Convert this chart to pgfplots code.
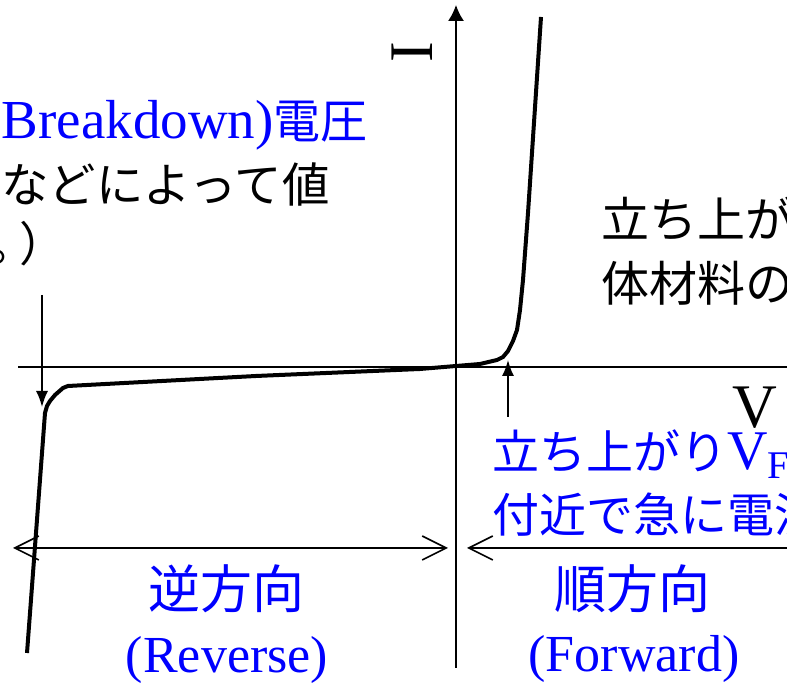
\documentclass[border=0pt]{standalone}
\usepackage{pgfplots}
\pgfplotsset{compat=1.18}
\usetikzlibrary{arrows.meta}
\usepackage{fontspec}
\setmainfont{Liberation Serif}
\newfontfamily\jp{Noto Sans CJK JP}
\newcommand{\J}[1]{{\jp\fontsize{23.5}{28}\selectfont #1}}
\definecolor{labelblue}{RGB}{0,0,255}

\begin{document}
\begin{tikzpicture}
\begin{axis}[
    hide axis,
    scale only axis,
    width=393.5pt, height=341.5pt,
    xmin=-456, xmax=331, ymin=-316, ymax=367,
    clip=true,
]
% axes (drawn by hand, the axis frame is hidden)
\draw[line width=0.8pt] (axis cs:-438,0) -- (axis cs:400,0);
\draw[line width=0.8pt, -{Latex[length=8pt,width=8pt]}] (axis cs:0,-301) -- (axis cs:0,362);

% diode characteristic
\addplot[black, line width=2pt] coordinates {
    (-429,-286) (-411,-46) (-409,-39) (-406,-34) (-401,-28) (-393,-21)
    (-388,-19) (-200,-9) (-36,-2) (0,1) (24,3) (41,7) (47,10) (52,16)
    (57,26) (61,37) (64,57) (67,87) (72,154) (85,350)
};

% pointers
\draw[line width=0.8pt, -{Latex[length=8pt,width=6pt]}] (axis cs:-414,72) -- (axis cs:-414,-40);
\draw[line width=0.8pt, -{Latex[length=8pt,width=6pt]}] (axis cs:52,-50) -- (axis cs:52,7);

% reverse / forward ranges
\draw[line width=0.8pt, {Straight Barb[length=12pt,width=12pt]}-{Straight Barb[length=12pt,width=12pt]}]
    (axis cs:-443,-181) -- (axis cs:-8,-181);
\draw[line width=0.8pt, {Straight Barb[length=12pt,width=12pt]}-{Straight Barb[length=12pt,width=12pt]}]
    (axis cs:11,-181) -- (axis cs:400,-181);

% axis names
\node[inner sep=0, anchor=base, font=\fontsize{31}{36}\selectfont] at (axis cs:299,-61) {V};
\node[inner sep=0, rotate=90, font=\fontsize{31}{36}\selectfont] at (axis cs:-44,315) {I};

% texts
\node[inner sep=0, anchor=base east, text=labelblue, font=\fontsize{27.5}{31}\selectfont]
    at (axis cs:-88,228) {\J{降伏}(Breakdown)\J{電圧}};
\node[inner sep=0, anchor=base east] at (axis cs:-126,164) {{\jp\fontsize{23.7}{28}\selectfont （材料 などによって値}};
\node[inner sep=0, anchor=base east] at (axis cs:-389,105) {\J{が異なる。\kern-8pt）}};

\node[inner sep=0, anchor=base west] at (axis cs:145,129) {{\jp\fontsize{24}{28}\selectfont 立ち上がり電圧は半導}};
\node[inner sep=0, anchor=base west] at (axis cs:145,65) {{\jp\fontsize{24}{28}\selectfont 体材料の種類で異なる}};

\node[inner sep=0, anchor=base west, text=labelblue, font=\fontsize{28}{32}\selectfont]
    at (axis cs:36,-103) {\J{立ち上がり}V\textsubscript{F}\J{電圧}};
\node[inner sep=0, anchor=base west, text=labelblue] at (axis cs:36,-166) {\J{付近で急に電流が流れる}};

\node[inner sep=0, anchor=base, text=labelblue, font=\jp\fontsize{26}{30}\selectfont] at (axis cs:-230,-242) {逆方向};
\node[inner sep=0, anchor=base, text=labelblue, font=\fontsize{26}{30}\selectfont] at (axis cs:-229,-306) {(Reverse)};
\node[inner sep=0, anchor=base, text=labelblue, font=\jp\fontsize{26}{30}\selectfont] at (axis cs:176,-242) {順方向};
\node[inner sep=0, anchor=base, text=labelblue, font=\fontsize{26}{30}\selectfont] at (axis cs:178,-305) {(Forward)};
\end{axis}
\pgfresetboundingbox
\path[use as bounding box] (current axis.south west) rectangle (current axis.north east);
\end{tikzpicture}
\end{document}
